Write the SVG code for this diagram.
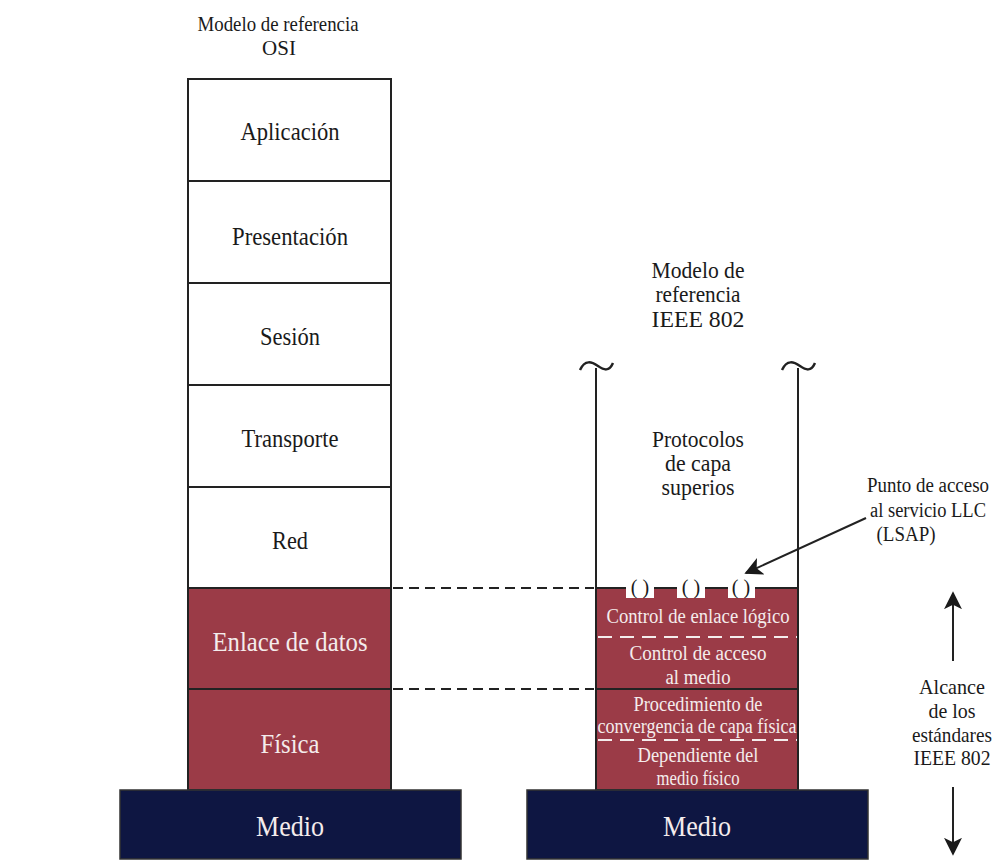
<svg xmlns="http://www.w3.org/2000/svg" width="998" height="865" viewBox="0 0 998 865">
<style>
text{font-family:"Liberation Serif","Times New Roman",serif;text-anchor:middle;fill:#1a1a1a}
.w{fill:#f4ecec}
.box{stroke:#222;stroke-width:2}
.white{fill:#ffffff}
.red{fill:#9b3b47}
.navy{fill:#0e1642;stroke:#333;stroke-width:1.5}
.bd{stroke:#222;stroke-width:2;stroke-dasharray:10 6;fill:none}
.wd{stroke:#f4ecec;stroke-width:2;stroke-dasharray:14 8;fill:none}
.ln{stroke:#222;stroke-width:2;fill:none}
.tl{stroke:#222;stroke-width:2.5;fill:none}
</style>
<defs>
<marker id="ah" viewBox="0 0 10 10" refX="9" refY="5" markerWidth="9" markerHeight="9" orient="auto-start-reverse" markerUnits="strokeWidth">
<path d="M0,0 L10,5 L0,10 L2.5,5 Z" fill="#1a1a1a"/>
</marker>
</defs>
<rect width="998" height="865" fill="#ffffff"/>

<g id="osi-title">
<text x="278" y="31" font-size="21" textLength="161" lengthAdjust="spacingAndGlyphs">Modelo de referencia</text>
<text x="279" y="55" font-size="21">OSI</text>
</g>
<g id="osi-aplicacion"><rect class="box white" x="188" y="79" width="203" height="102"/><text x="290" y="140" font-size="25" textLength="99" lengthAdjust="spacingAndGlyphs">Aplicación</text></g>
<g id="osi-presentacion"><rect class="box white" x="188" y="181" width="203" height="102"/><text x="290" y="245" font-size="25" textLength="116" lengthAdjust="spacingAndGlyphs">Presentación</text></g>
<g id="osi-sesion"><rect class="box white" x="188" y="283" width="203" height="102"/><text x="290" y="345" font-size="25" textLength="60" lengthAdjust="spacingAndGlyphs">Sesión</text></g>
<g id="osi-transporte"><rect class="box white" x="188" y="385" width="203" height="102"/><text x="290" y="447" font-size="25" textLength="97" lengthAdjust="spacingAndGlyphs">Transporte</text></g>
<g id="osi-red"><rect class="box white" x="188" y="487" width="203" height="101"/><text x="290" y="549" font-size="25" textLength="36" lengthAdjust="spacingAndGlyphs">Red</text></g>
<g id="osi-enlace"><rect class="box red" x="188" y="588" width="203" height="101"/><text class="w" x="290" y="651" font-size="28" textLength="155" lengthAdjust="spacingAndGlyphs">Enlace de datos</text></g>
<g id="osi-fisica"><rect class="box red" x="188" y="689" width="203" height="101"/><text class="w" x="290" y="753" font-size="28" textLength="59" lengthAdjust="spacingAndGlyphs">Física</text></g>
<g id="osi-medio"><rect class="navy" x="120" y="790" width="341" height="69"/><text class="w" x="290" y="836" font-size="29" textLength="68" lengthAdjust="spacingAndGlyphs">Medio</text></g>

<g id="ieee-title">
<text x="698" y="278" font-size="22.5" textLength="93" lengthAdjust="spacingAndGlyphs">Modelo de</text>
<text x="698" y="302" font-size="22.5" textLength="85" lengthAdjust="spacingAndGlyphs">referencia</text>
<text x="698" y="327" font-size="22.5" textLength="93" lengthAdjust="spacingAndGlyphs">IEEE 802</text>
</g>
<g id="ieee-superiores">
<path class="ln" d="M596,790 V368"/>
<path class="tl" d="M580,370 C585,359 592,362 598,366 C604,370 609,372 613,363"/>
<path class="ln" d="M798,790 V368"/>
<path class="tl" d="M782,370 C787,359 794,362 800,366 C806,370 811,372 815,363"/>
<text x="698" y="447" font-size="22.5" textLength="92" lengthAdjust="spacingAndGlyphs">Protocolos</text>
<text x="698" y="471" font-size="22.5" textLength="66" lengthAdjust="spacingAndGlyphs">de capa</text>
<text x="698" y="495" font-size="22.5" textLength="73" lengthAdjust="spacingAndGlyphs">superios</text>
</g>
<g id="ieee-llc">
<rect class="red" x="596" y="588" width="202" height="49"/>
<text class="w" x="698" y="623" font-size="20" textLength="183" lengthAdjust="spacingAndGlyphs">Control de enlace lógico</text>
</g>
<g id="ieee-mac">
<rect class="red" x="596" y="637" width="202" height="52"/>
<text class="w" x="698" y="660" font-size="20" textLength="137" lengthAdjust="spacingAndGlyphs">Control de acceso</text>
<text class="w" x="698" y="684" font-size="20" textLength="65" lengthAdjust="spacingAndGlyphs">al medio</text>
</g>
<g id="ieee-plcp">
<rect class="red" x="596" y="689" width="202" height="51"/>
<text class="w" x="698" y="711" font-size="20" textLength="129" lengthAdjust="spacingAndGlyphs">Procedimiento de</text>
<text class="w" x="697" y="733" font-size="20" textLength="199" lengthAdjust="spacingAndGlyphs">convergencia de capa física</text>
</g>
<g id="ieee-pmd">
<rect class="red" x="596" y="740" width="202" height="50"/>
<text class="w" x="698" y="762" font-size="20" textLength="121" lengthAdjust="spacingAndGlyphs">Dependiente del</text>
<text class="w" x="698" y="785" font-size="20" textLength="83" lengthAdjust="spacingAndGlyphs">medio físico</text>
</g>
<g id="ieee-borders">
<path class="ln" d="M596,588 H798 V790 H596 Z M596,689 H798"/>
<path class="wd" d="M598,637 H797 M598,740 H797"/>
</g>
<g id="lsap-points">
<rect class="white" x="626" y="577" width="28" height="21"/>
<rect class="white" x="677" y="577" width="28" height="21"/>
<rect class="white" x="728" y="577" width="27" height="21"/>
<text x="640" y="594" font-size="20">( )</text>
<text x="691" y="594" font-size="20">( )</text>
<text x="741" y="594" font-size="20">( )</text>
</g>
<g id="ieee-medio"><rect class="navy" x="527" y="790" width="341" height="69"/><text class="w" x="697" y="836" font-size="29" textLength="68" lengthAdjust="spacingAndGlyphs">Medio</text></g>

<g id="lsap-label">
<text x="928" y="492" font-size="20" textLength="122" lengthAdjust="spacingAndGlyphs">Punto de acceso</text>
<text x="928" y="517" font-size="20" textLength="116" lengthAdjust="spacingAndGlyphs">al servicio LLC</text>
<text x="906" y="541" font-size="20" textLength="59" lengthAdjust="spacingAndGlyphs">(LSAP)</text>
</g>
<g id="alcance-label">
<text x="952" y="694" font-size="21" textLength="66" lengthAdjust="spacingAndGlyphs">Alcance</text>
<text x="952" y="718" font-size="21" textLength="47" lengthAdjust="spacingAndGlyphs">de los</text>
<text x="952" y="742" font-size="21" textLength="80" lengthAdjust="spacingAndGlyphs">estándares</text>
<text x="952" y="765" font-size="21" textLength="77" lengthAdjust="spacingAndGlyphs">IEEE 802</text>
</g>

<g id="connectors">
<path class="bd" d="M393,588 H594 M393,689 H594"/>
<path class="ln" d="M866,518 L746,573" marker-end="url(#ah)"/>
<path class="ln" d="M953,661 V593" marker-end="url(#ah)"/>
<path class="ln" d="M953,787 V854" marker-end="url(#ah)"/>
</g>
</svg>
